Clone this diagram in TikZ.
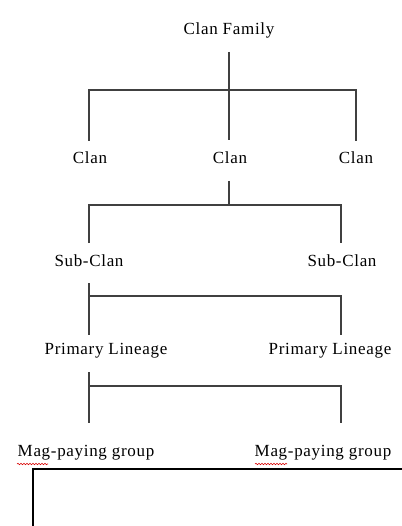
\documentclass[tikz,border=0pt]{standalone}
\usepackage{fontspec}
\setmainfont{Liberation Serif}[LetterSpace=4]
\usetikzlibrary{decorations.pathmorphing}
\begin{document}
\begin{tikzpicture}[x=1pt,y=-1pt,
  lbl/.style={inner sep=0pt,font=\fontsize{17}{19}\selectfont,text=black},
  conn/.style={draw=black!75,line width=1.3pt},
  frame/.style={draw=black,line width=2pt},
  squig/.style={draw=red!85!black,line width=0.6pt,decorate,decoration={snake,amplitude=0.7pt,segment length=3pt}}]
\useasboundingbox (0,0) rectangle (401,526);
\fill[white] (0,0) rectangle (401,526);
% labels
\node[lbl] (cf) at (229,30) {Clan Family};
\node[lbl] (c1) at (90,158) {Clan};
\node[lbl] (c2) at (230,158) {Clan};
\node[lbl] (c3) at (356,158) {Clan};
\node[lbl] (s1) at (89,261) {Sub-Clan};
\node[lbl] (s2) at (342,261) {Sub-Clan};
\node[lbl] (p1) at (106,351) {Primary Lineage};
\node[lbl] (p2) at (330,351) {Primary Lineage};
\node[lbl] (m1) at (86,453) {Mag-paying group};
\node[lbl] (m2) at (323,453) {Mag-paying group};
% junction coordinates
\coordinate (a0) at (229,52);  \coordinate (a1) at (229,140);
\coordinate (a2) at (89,141);  \coordinate (a3) at (89,90);
\coordinate (a4) at (356,90);  \coordinate (a5) at (356,141);
\coordinate (b0) at (229,181); \coordinate (b1) at (229,205);
\coordinate (b2) at (89,243);  \coordinate (b3) at (89,205);
\coordinate (b4) at (341,205); \coordinate (b5) at (341,243);
\coordinate (d0) at (89,283);  \coordinate (d1) at (89,335);
\coordinate (d2) at (89,296);  \coordinate (d3) at (341,296);
\coordinate (d4) at (341,335);
\coordinate (e0) at (89,372);  \coordinate (e1) at (89,423);
\coordinate (e2) at (89,386);  \coordinate (e3) at (341,386);
\coordinate (e4) at (341,423);
\coordinate (f0) at (33,527);  \coordinate (f1) at (33,469);
\coordinate (f2) at (402,469);
% connectors
\draw[conn] (a0) -- (a1);
\draw[conn] (a2) -- (a3) -- (a4) -- (a5);
\draw[conn] (b0) -- (b1);
\draw[conn] (b2) -- (b3) -- (b4) -- (b5);
\draw[conn] (d0) -- (d1);
\draw[conn] (d2) -- (d3) -- (d4);
\draw[conn] (e0) -- (e1);
\draw[conn] (e2) -- (e3) -- (e4);
\draw[frame] (f0) -- (f1) -- (f2);
% spell-check squiggles
\coordinate (q1) at (17,464); \coordinate (q2) at (48,464);
\coordinate (q3) at (255,464); \coordinate (q4) at (287,464);
\draw[squig] (q1) -- (q2);
\draw[squig] (q3) -- (q4);
\end{tikzpicture}
\end{document}
